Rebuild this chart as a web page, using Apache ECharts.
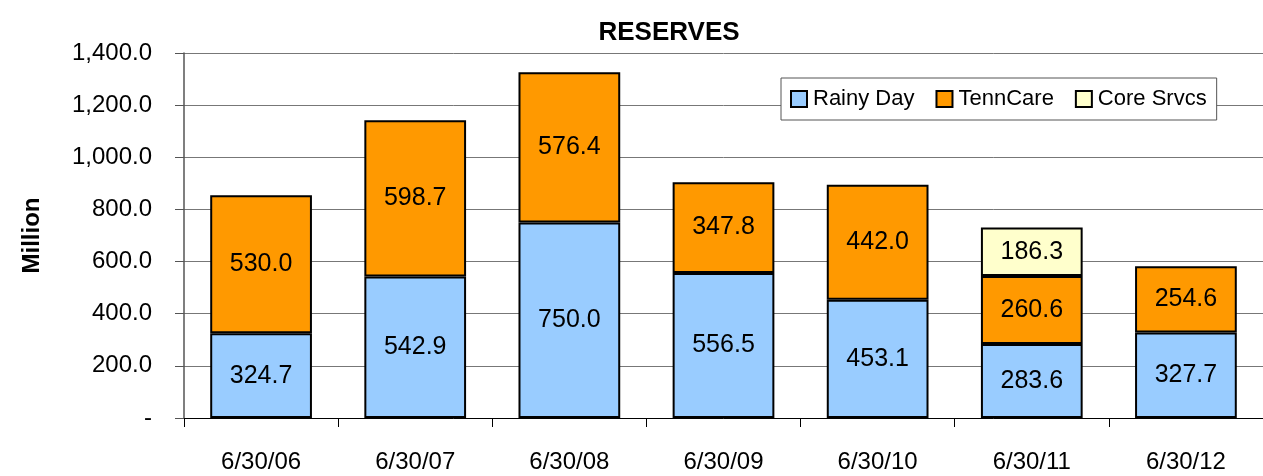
<!DOCTYPE html>
<html>
<head>
<meta charset="utf-8">
<script src="https://cdn.jsdelivr.net/npm/echarts@6/dist/echarts.min.js"></script>
<style>
  html, body { margin: 0; padding: 0; background: #fff; }
  #main { width: 1263px; height: 476px; }
</style>
</head>
<body>
<div id="main"></div>
<script>
const categories = ['6/30/06', '6/30/07', '6/30/08', '6/30/09', '6/30/10', '6/30/11', '6/30/12'];
const rainyDay = [324.7, 542.9, 750.0, 556.5, 453.1, 283.6, 327.7];
const tennCare = [530.0, 598.7, 576.4, 347.8, 442.0, 260.6, 254.6];
const coreSrvcs = [null, null, null, null, null, 186.3, null];
const yTicks = [0, 200, 400, 600, 800, 1000, 1200, 1400];

const font = '"Liberation Sans", Arial, sans-serif';

const fmt = v => {
  if (v === 0) return '-';
  return v.toLocaleString('en-US', { minimumFractionDigits: 1, maximumFractionDigits: 1 });
};

const seg = (name, data, color) => ({
  name: name,
  type: 'bar',
  stack: 'total',
  data: data,
  barCategoryGap: '34%',
  itemStyle: { color: color, borderColor: '#000', borderWidth: 2 },
  label: {
    show: true,
    position: 'inside',
    color: '#000',
    fontFamily: font,
    fontSize: 25,
    formatter: p => p.value == null ? '' : p.value.toFixed(1)
  }
});

var myChart = echarts.init(document.getElementById('main'));
myChart.setOption({
  animation: false,
  title: {
    text: 'RESERVES',
    left: 664,
    top: 15,
    textAlign: 'center',
    textStyle: { fontFamily: font, fontSize: 26, fontWeight: 'bold', color: '#000' }
  },
  legend: {
    left: 781,
    top: 78,
    icon: 'rect',
    itemWidth: 16,
    itemHeight: 16,
    itemGap: 21,
    padding: [10, 10, 10, 9],
    borderColor: '#555',
    borderWidth: 1,
    backgroundColor: '#fff',
    itemStyle: { borderColor: '#000', borderWidth: 2 },
    textStyle: { fontFamily: font, fontSize: 22, color: '#000', padding: [0, 0, 0, 1] },
    data: ['Rainy Day', 'TennCare', 'Core Srvcs']
  },
  grid: { left: 184, right: -13, top: 53, bottom: 58 },
  xAxis: {
    type: 'category',
    data: categories,
    axisLine: { lineStyle: { color: '#000', width: 1 } },
    axisTick: { show: true, length: 9, lineStyle: { color: '#000' } },
    axisLabel: { color: '#000', fontFamily: font, fontSize: 24, margin: 32 }
  },
  yAxis: {
    type: 'value',
    min: yTicks[0],
    max: yTicks[yTicks.length - 1],
    interval: 200,
    name: 'Million',
    nameLocation: 'middle',
    nameRotate: 90,
    nameGap: 140,
    nameTextStyle: { fontFamily: font, fontSize: 24, fontWeight: 'bold', color: '#000' },
    axisLine: { show: true, lineStyle: { color: '#555', width: 1.5 } },
    axisTick: { show: true, length: 9, lineStyle: { color: '#555' } },
    axisLabel: { color: '#000', fontFamily: font, fontSize: 24, margin: 32, formatter: fmt },
    splitLine: { show: true, lineStyle: { color: '#777', width: 1 } }
  },
  series: [
    seg('Rainy Day', rainyDay, '#99CCFF'),
    seg('TennCare', tennCare, '#FF9900'),
    seg('Core Srvcs', coreSrvcs, '#FFFFCC')
  ]
});
</script>
</body>
</html>
